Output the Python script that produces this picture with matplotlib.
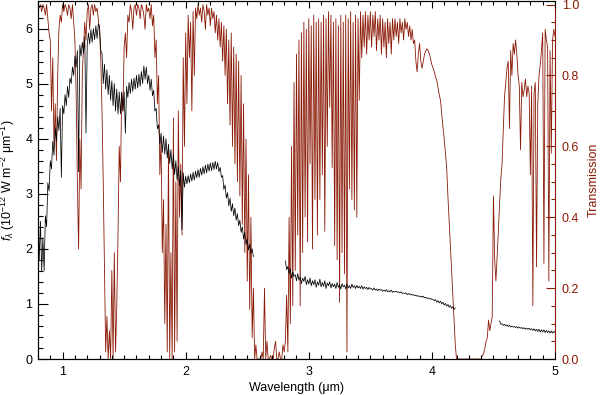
import numpy as np
import matplotlib
matplotlib.use('Agg')
import matplotlib.pyplot as plt
from matplotlib.ticker import MultipleLocator, FormatStrFormatter

plt.rcParams['font.family'] = ['Liberation Sans', 'DejaVu Sans']
plt.rcParams['mathtext.fontset'] = 'custom'
plt.rcParams['mathtext.rm'] = 'Liberation Sans'
plt.rcParams['mathtext.it'] = 'Liberation Sans:italic'

trans_start = 0.80
trans_step = 0.01
trans = [
    1.00, 0.99, 1.00, 0.98, 1.00, 0.99, 0.97, 1.00, 0.96, 0.92,
    0.90, 0.70, 0.85, 0.60, 0.72, 0.56, 0.80, 0.93, 0.97, 0.95,
    1.00, 0.98, 1.00, 0.99, 0.97, 1.00, 0.99, 0.96, 1.00, 0.95,
    0.90, 0.75, 0.50, 0.31, 0.62, 0.48, 0.80, 0.88, 0.95, 0.90,
    0.98, 1.00, 0.93, 0.99, 1.00, 0.97, 1.00, 0.98, 0.99, 0.96,
    0.92, 0.85, 0.70, 0.50, 0.25, 0.02, 0.12, 0.00, 0.08, 0.00,
    0.25, 0.00, 0.30, 0.02, 0.15, 0.35, 0.60, 0.50, 0.75, 0.70,
    0.88, 0.92, 0.85, 0.97, 0.95, 1.00, 0.98, 0.93, 0.99, 1.00,
    0.97, 1.00, 0.99, 0.96, 1.00, 0.99, 0.97, 0.93, 1.00, 0.98,
    0.99, 0.96, 1.00, 0.94, 0.97, 0.85, 0.90, 0.72, 0.80, 0.52,
    0.62, 0.30, 0.45, 0.10, 0.38, 0.02, 0.60, 0.00, 0.30, 0.00,
    0.68, 0.02, 0.50, 0.05, 0.70, 0.40, 0.55, 0.35, 0.85, 0.60,
    0.92, 0.72, 0.97, 0.85, 0.95, 0.70, 0.98, 0.80, 0.99, 0.96,
    1.00, 0.97, 0.99, 0.95, 1.00, 0.98, 0.93, 1.00, 0.97, 0.99,
    0.94, 0.99, 0.96, 0.98, 0.92, 0.97, 0.90, 0.96, 0.88, 0.95,
    0.84, 0.94, 0.80, 0.93, 0.72, 0.90, 0.66, 0.92, 0.60, 0.88,
    0.55, 0.86, 0.50, 0.84, 0.46, 0.80, 0.38, 0.72, 0.30, 0.62,
    0.22, 0.52, 0.14, 0.40, 0.06, 0.20, 0.00, 0.04, 0.00, 0.00,
    0.00, 0.00, 0.02, 0.00, 0.20, 0.00, 0.05, 0.00, 0.00, 0.01,
    0.00, 0.00, 0.03, 0.05, 0.00, 0.00, 0.02, 0.00, 0.00, 0.04,
    0.02, 0.05, 0.18, 0.02, 0.40, 0.10, 0.60, 0.15, 0.78, 0.25,
    0.86, 0.35, 0.90, 0.15, 0.92, 0.30, 0.95, 0.40, 0.93, 0.33,
    0.96, 0.55, 0.94, 0.31, 0.97, 0.45, 0.95, 0.35, 0.96, 0.45,
    0.95, 0.52, 0.97, 0.36, 0.96, 0.60, 0.98, 0.71, 0.97, 0.54,
    0.95, 0.32, 0.96, 0.28, 0.94, 0.16, 0.97, 0.30, 0.95, 0.24,
    0.97, 0.02, 0.96, 0.48, 0.98, 0.45, 0.95, 0.42, 0.97, 0.40,
    0.96, 0.73, 0.98, 0.85, 0.97, 0.88, 0.98, 0.86, 0.97, 0.90,
    0.98, 0.88, 0.97, 0.91, 0.98, 0.87, 0.96, 0.90, 0.97, 0.86,
    0.96, 0.88, 0.95, 0.85, 0.96, 0.89, 0.95, 0.86, 0.96, 0.90,
    0.96, 0.91, 0.95, 0.89, 0.96, 0.92, 0.95, 0.90, 0.96, 0.93,
    0.95, 0.91, 0.94, 0.90, 0.93, 0.89, 0.90, 0.84, 0.81, 0.86,
    0.89, 0.84, 0.82, 0.84, 0.86, 0.87, 0.875, 0.87, 0.86, 0.845,
    0.83, 0.82, 0.81, 0.795, 0.785, 0.765, 0.745, 0.73, 0.69, 0.655,
    0.62, 0.58, 0.54, 0.46, 0.39, 0.32, 0.25, 0.18, 0.11, 0.04,
    0.00, 0.00, 0.00, 0.00, 0.00, 0.00, 0.00, 0.00, 0.00, 0.00,
    0.00, 0.00, 0.00, 0.00, 0.00, 0.00, 0.00, 0.00, 0.00, 0.00,
    0.00, 0.01, 0.015, 0.03, 0.05, 0.06, 0.11, 0.08, 0.10, 0.12,
    0.46, 0.28, 0.22, 0.29, 0.36, 0.44, 0.51, 0.55, 0.65, 0.74,
    0.78, 0.82, 0.84, 0.65, 0.87, 0.80, 0.89, 0.86, 0.90, 0.86,
    0.80, 0.77, 0.59, 0.78, 0.74, 0.76, 0.79, 0.74, 0.77, 0.75,
    0.52, 0.77, 0.15, 0.75, 0.78, 0.26, 0.72, 0.80, 0.83, 0.87,
    0.92, 0.27, 0.93, 0.90, 0.88, 0.22, 0.87, 0.58, 0.90, 0.93,
    0.91,
]

# object spectrum (10^-12 W m^-2 um^-1), three pieces between the opaque bands
spec_step = 0.01
spec1_start = 0.80
spec1 = [
    2.70, 1.80, 2.50, 1.60, 2.20, 1.60, 2.60, 2.40, 3.20, 3.05,
    3.60, 3.45, 3.95, 3.70, 4.20, 3.95, 4.40, 4.15, 4.55, 3.30,
    4.60, 4.45, 4.80, 4.60, 4.95, 4.75, 5.10, 5.00, 5.30, 5.15,
    5.50, 5.30, 5.60, 3.40, 5.70, 5.50, 5.75, 5.55, 5.85, 4.10,
    5.70, 5.92, 5.72, 5.98, 5.75, 6.00, 5.80, 6.05, 5.82, 6.08,
    6.05, 5.60, 5.55, 5.00, 5.35, 4.90, 5.25, 4.80, 5.15, 4.70,
    5.05, 4.60, 5.00, 4.50, 4.90, 4.45, 4.85, 4.45, 4.85, 4.50,
    4.85, 4.10, 4.95, 4.75, 5.02, 4.82, 5.08, 4.86, 5.10, 4.90,
    5.15, 4.92, 5.17, 4.95, 5.22, 5.00, 5.32, 5.08, 5.30, 5.00,
    5.15, 4.88, 5.08, 4.78, 4.88, 4.50, 4.55, 4.18, 4.25, 3.90,
    4.10, 3.75, 4.05, 3.72, 4.00, 3.65, 3.90, 3.55, 3.80, 3.45,
    3.70, 3.35, 3.60, 3.25, 3.50, 3.15, 3.42, 2.35, 3.38, 3.12,
    3.32, 3.18, 3.33, 3.20, 3.36, 3.23, 3.39, 3.25, 3.41, 3.29,
    3.44, 3.30, 3.46, 3.34, 3.49, 3.36, 3.52, 3.38, 3.54, 3.41,
    3.56, 3.42, 3.57, 3.44, 3.59, 3.45, 3.57, 3.40, 3.48, 3.30,
    3.33, 3.08, 3.16, 2.92, 3.02, 2.78, 2.92, 2.68, 2.82, 2.60,
    2.74, 2.52, 2.64, 2.42, 2.52, 2.30, 2.40, 2.18, 2.30, 2.08,
    2.18, 1.98, 2.08, 1.92, 2.00, 1.86,
]
spec2_start = 2.81
spec2 = [
    1.78, 1.62, 1.68, 1.55, 1.64, 1.47, 1.58, 1.50, 1.53, 1.42,
    1.55, 1.43, 1.49, 1.37, 1.47, 1.41, 1.50, 1.35, 1.44, 1.36,
    1.47, 1.33, 1.42, 1.35, 1.44, 1.30, 1.40, 1.34, 1.45, 1.31,
    1.39, 1.32, 1.42, 1.28, 1.38, 1.33, 1.40, 1.29, 1.37, 1.31,
    1.36, 1.28, 1.39, 1.30, 1.35, 1.27, 1.37, 1.31, 1.34, 1.27,
    1.36, 1.29, 1.33, 1.28, 1.36, 1.30, 1.33, 1.28, 1.34, 1.29,
    1.32, 1.28, 1.33, 1.27, 1.31, 1.28, 1.30, 1.26, 1.30, 1.27,
    1.28, 1.25, 1.29, 1.25, 1.27, 1.24, 1.27, 1.25, 1.26, 1.23,
    1.25, 1.23, 1.26, 1.22, 1.24, 1.22, 1.25, 1.21, 1.23, 1.22,
    1.23, 1.21, 1.22, 1.20, 1.22, 1.19, 1.20, 1.19, 1.20, 1.17,
    1.19, 1.17, 1.18, 1.16, 1.17, 1.15, 1.16, 1.14, 1.15, 1.13,
    1.14, 1.12, 1.14, 1.11, 1.12, 1.10, 1.11, 1.09, 1.10, 1.08,
    1.08, 1.06, 1.08, 1.03, 1.06, 1.02, 1.05, 1.00, 1.03, 0.98,
    1.01, 0.96, 0.99, 0.94, 0.97, 0.92, 0.95, 0.90, 0.93,
]
spec3_start = 4.55
spec3 = [
    0.69, 0.63, 0.64, 0.61, 0.63, 0.60, 0.62, 0.59, 0.61, 0.58,
    0.60, 0.58, 0.59, 0.57, 0.59, 0.56, 0.58, 0.56, 0.57, 0.55,
    0.57, 0.54, 0.56, 0.54, 0.56, 0.53, 0.55, 0.52, 0.55, 0.51,
    0.54, 0.50, 0.54, 0.49, 0.53, 0.49, 0.53, 0.48, 0.52, 0.48,
    0.51, 0.47, 0.51, 0.47, 0.50, 0.48,
]

red = '#8b1a06'


def grid(start, vals, step):
    return start + step * np.arange(len(vals))


fig = plt.figure(figsize=(6, 3.95), dpi=100)
ax = fig.add_axes([0.0633, 0.0911, 0.8617, 0.9064])
ax2 = ax.twinx()

ax2.plot(grid(trans_start, trans, trans_step), trans, color=red, lw=0.6)

for start, vals in [(spec1_start, spec1), (spec2_start, spec2), (spec3_start, spec3)]:
    ax.plot(grid(start, vals, spec_step), vals, color='black', lw=0.55)

# spectrum drawn above the transmission curve
ax.set_zorder(ax2.get_zorder() + 1)
ax.patch.set_visible(False)

ax.set_xlim(0.8, 5.0)
ax.set_ylim(0, 6.5)
ax2.set_ylim(0, 1.01)

ax.xaxis.set_major_locator(MultipleLocator(1))
ax.xaxis.set_minor_locator(MultipleLocator(0.1))
ax.yaxis.set_major_locator(MultipleLocator(1))
ax.yaxis.set_minor_locator(MultipleLocator(0.2))
ax2.yaxis.set_major_locator(MultipleLocator(0.2))
ax2.yaxis.set_minor_locator(MultipleLocator(0.05))
ax2.yaxis.set_major_formatter(FormatStrFormatter('%.1f'))

ax.tick_params(axis='x', which='both', direction='in', top=True, bottom=True,
               labelsize=9, pad=5, width=0.8)
ax.tick_params(axis='x', which='major', length=5)
ax.tick_params(axis='x', which='minor', length=2.8)
ax.tick_params(axis='y', which='both', direction='in', left=True, right=False,
               labelsize=9, pad=4, width=0.8)
ax.tick_params(axis='y', which='major', length=7)
ax.tick_params(axis='y', which='minor', length=3.5)
ax2.tick_params(axis='y', which='both', direction='in', colors=red,
                labelsize=9, pad=5, width=0.8)
ax2.tick_params(axis='y', which='major', length=6.5)
ax2.tick_params(axis='y', which='minor', length=3)

ax.spines['right'].set_visible(False)
ax2.spines['right'].set_color(red)
for s in ax.spines.values():
    s.set_linewidth(0.8)
ax2.spines['right'].set_linewidth(0.8)

ax.set_xlabel('Wavelength (\u03bcm)', fontsize=9, labelpad=3)
ax.set_ylabel(r'$f_\lambda$ (10$^{-12}$ W m$^{-2}$ ' + '\u03bcm' + r'$^{-1}$)',
              fontsize=9, labelpad=6)
ax2.set_ylabel('Transmission', fontsize=9, color=red, labelpad=6)

fig.savefig('out.png', dpi=100)
